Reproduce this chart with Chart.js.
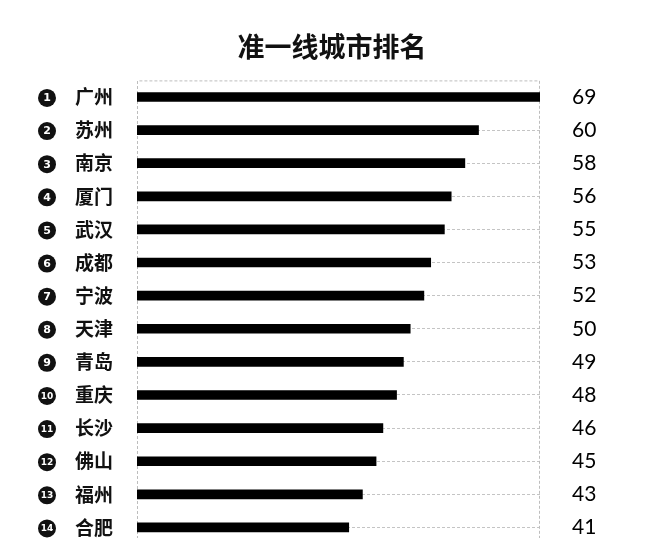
<!DOCTYPE html>
<html>
<head>
<meta charset="utf-8">
<script src="https://cdn.jsdelivr.net/npm/chart.js@4/dist/chart.umd.min.js"></script>
<style>
  html, body { margin: 0; padding: 0; background: #fff; overflow: hidden; }
</style>
</head>
<body>
<canvas id="rankChart" width="664" height="550"></canvas>
<script>
const cities = ['广州', '苏州', '南京', '厦门', '武汉', '成都', '宁波', '天津', '青岛', '重庆', '长沙', '佛山', '福州', '合肥'];
const scores = [69, 60, 58, 56, 55, 53, 52, 50, 49, 48, 46, 45, 43, 41];
const scoreLabels = scores.map(String);

// numbered badges + dashed frame around the plot
const badgePlugin = {
    id: 'badges',
    beforeDatasetsDraw(chart) {
        const ctx = chart.ctx;
        const a = chart.chartArea;
        ctx.save();
        ctx.strokeStyle = '#bdbdbd';
        ctx.lineWidth = 1;
        ctx.setLineDash([3, 2]);
        ctx.beginPath();
        ctx.moveTo(a.left + 0.5, a.bottom);
        ctx.lineTo(a.left + 0.5, a.top + 0.5);
        ctx.lineTo(a.right - 0.5, a.top + 0.5);
        ctx.lineTo(a.right - 0.5, a.bottom);
        ctx.stroke();
        ctx.restore();
    },
    afterDraw(chart) {
        const ctx = chart.ctx;
        const y = chart.scales.y;
        ctx.save();
        cities.forEach(function (c, i) {
            const py = y.getPixelForValue(i);
            ctx.fillStyle = '#111';
            ctx.beginPath();
            ctx.arc(47, py + 1, 9, 0, Math.PI * 2);
            ctx.fill();
            ctx.fillStyle = '#fff';
            ctx.font = 'bold ' + (i < 9 ? 11 : 9) + 'px "DejaVu Sans"';
            ctx.textAlign = 'center';
            ctx.textBaseline = 'middle';
            ctx.fillText(String(i + 1), 47, py + 1.5);
        });
        ctx.restore();
    }
};

// fixed axis widths, no extra label padding at top/bottom
function fixWidth(w) {
    return function (s) {
        s.width = w;
        s.paddingTop = 0;
        s.paddingBottom = 0;
    };
}

const ctx = document.getElementById('rankChart').getContext('2d');
const rankChart = new Chart(ctx, {
    type: 'bar',
    data: {
        labels: cities,
        datasets: [{
            label: '排名',
            data: scores,
            backgroundColor: '#000',
            barThickness: 9
        }]
    },
    plugins: [badgePlugin],
    options: {
        indexAxis: 'y',
        responsive: false,
        animation: false,
        layout: { padding: { top: 0, bottom: 6, left: 0, right: 0 } },
        plugins: {
            legend: { display: false },
            tooltip: { enabled: false },
            title: {
                display: true,
                text: '准一线城市排名',
                color: '#111',
                font: { family: '"Noto Sans CJK SC"', size: 27, weight: 'bold', lineHeight: 1.2 },
                padding: { top: 31, bottom: 17 }
            }
        },
        scales: {
            x: {
                display: false,
                min: 10,
                max: 69
            },
            y: {
                position: 'left',
                afterFit: fixWidth(137),
                border: { display: false, dash: [3, 2] },
                grid: {
                    offset: false,
                    color: '#c4c4c4',
                    drawTicks: false
                },
                ticks: {
                    color: '#111',
                    padding: 24,
                    font: { family: '"Noto Sans CJK SC"', size: 19, weight: 'bold' }
                }
            },
            y2: {
                type: 'category',
                labels: scoreLabels,
                position: 'right',
                afterFit: fixWidth(124),
                border: { display: false },
                grid: { display: false },
                ticks: {
                    color: '#000',
                    padding: 24,
                    font: { family: 'Lato', size: 21 }
                }
            }
        }
    }
});
// dashed row guides
rankChart.options.scales.y.grid.borderDash = [3, 2];
rankChart.update();
</script>
</body>
</html>
